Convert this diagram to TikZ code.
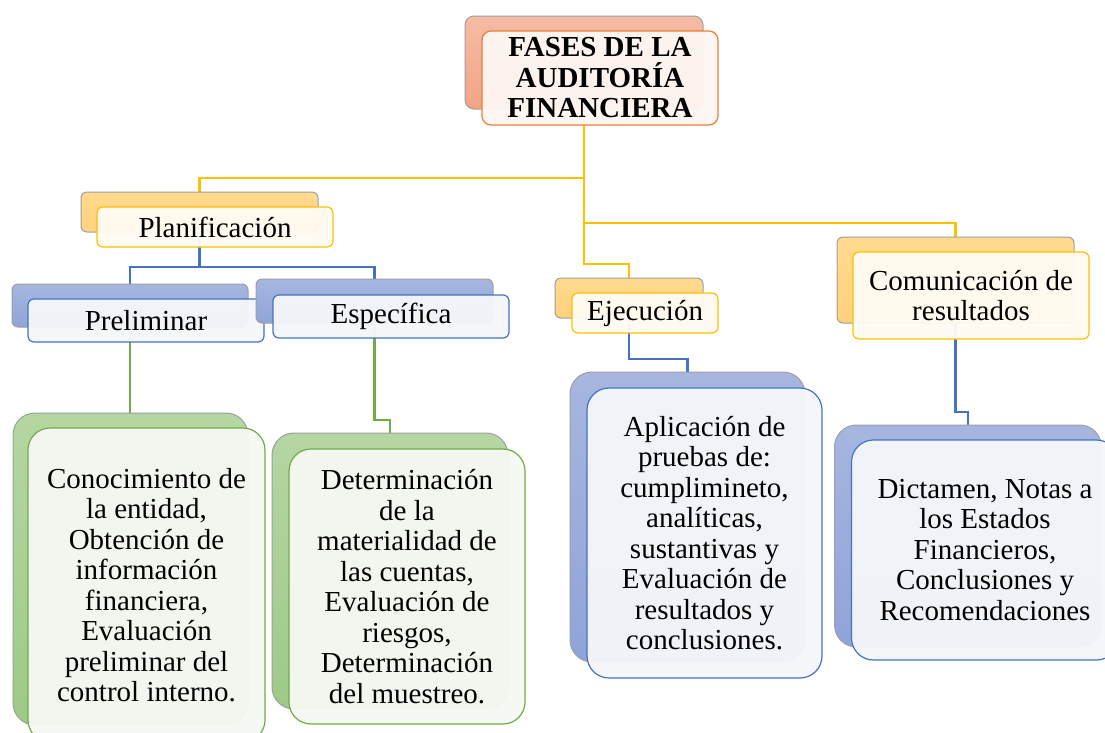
\documentclass[tikz,border=0pt]{standalone}
\usepackage{fontspec}
\setmainfont{Liberation Serif}
\usepackage{tikz}
\usetikzlibrary{backgrounds}
\definecolor{gold}{HTML}{FFC000}
\definecolor{wordblue}{HTML}{4472C4}
\definecolor{wordgreen}{HTML}{70AD47}
\definecolor{wordorange}{HTML}{ED7D31}
\tikzstyle{backbox} = [rectangle, draw=gray!75, line width=1pt, rounded corners=6pt]
\tikzstyle{frontbox} = [rectangle, line width=1.2pt, rounded corners=6pt, align=center,
    fill opacity=0.96, text opacity=1, font=\fontsize{29}{30.5}\selectfont]
\tikzstyle{salmonback} = [backbox, top color={rgb,255:red,246;green,188;blue,165},
    bottom color={rgb,255:red,241;green,164;blue,134}, rounded corners=9pt]
\tikzstyle{goldback} = [backbox, top color={rgb,255:red,255;green,218;blue,143},
    bottom color={rgb,255:red,255;green,209;blue,125}]
\tikzstyle{blueback} = [backbox, top color={rgb,255:red,166;green,182;blue,224},
    bottom color={rgb,255:red,143;green,164;blue,215}]
\tikzstyle{greenback} = [backbox, top color={rgb,255:red,181;green,214;blue,163},
    bottom color={rgb,255:red,157;green,202;blue,135}]
\tikzstyle{salmonfront} = [frontbox, draw=wordorange, fill={rgb,255:red,254;green,246;blue,242},
    rounded corners=9pt]
\tikzstyle{goldfront} = [frontbox, draw=gold, fill={rgb,255:red,255;green,251;blue,243}]
\tikzstyle{bluefront} = [frontbox, draw=wordblue, fill={rgb,255:red,244;green,246;blue,250}]
\tikzstyle{greenfront} = [frontbox, draw=wordgreen, fill={rgb,255:red,245;green,248;blue,243}]
\tikzstyle{goldline} = [draw, gold, line width=2.6pt]
\tikzstyle{blueline} = [draw, wordblue, line width=2.6pt]
\tikzstyle{greenline} = [draw, wordgreen, line width=2.6pt]

\begin{document}
\begin{tikzpicture}[x=1pt, y=-1pt]
    \useasboundingbox (0,0) rectangle (1105,732);
    % title
    \node [salmonback, minimum width=238pt, minimum height=93pt] at (584,62.5) (fasesb) {};
    \node [salmonfront, minimum width=236pt, minimum height=94pt] at (600,78) (fases)
        {\bfseries FASES DE LA\\\bfseries AUDITORÍA\\\bfseries FINANCIERA};
    % phases
    \node [goldback, minimum width=237pt, minimum height=40pt] at (199.5,212) (planb) {};
    \node [goldfront, minimum width=236pt, minimum height=40pt] at (215,227) (plan) {Planificación};
    \node [goldback, minimum width=148pt, minimum height=40pt] at (629,298) (ejecb) {};
    \node [goldfront, minimum width=146pt, minimum height=40pt] at (645,313) (ejec) {Ejecución};
    \node [goldback, minimum width=237pt, minimum height=86pt] at (955.5,280) (comb) {};
    \node [goldfront, minimum width=236pt, minimum height=87pt] at (971,295.5) (com)
        {Comunicación de\\resultados};
    % planning stages
    \node [blueback, minimum width=236pt, minimum height=43pt] at (130,305.5) (prelb) {};
    \node [bluefront, minimum width=236pt, minimum height=43pt] at (146,320.5) (prel) {Preliminar};
    \node [blueback, minimum width=237pt, minimum height=44pt] at (374.5,301) (espb) {};
    \node [bluefront, minimum width=236pt, minimum height=43pt] at (391,316.5) (esp) {Específica};
    % details
    \node [greenback, rounded corners=22pt, minimum width=235pt, minimum height=312pt] at (130.5,569) (conob) {};
    \node [greenfront, rounded corners=22pt, minimum width=237pt, minimum height=314pt] at (146.5,585) (cono)
        {Conocimiento de\\la entidad,\\Obtención de\\información\\financiera,\\Evaluación\\preliminar del\\control interno.};
    \node [greenback, rounded corners=22pt, minimum width=236pt, minimum height=276pt] at (390,571) (detb) {};
    \node [greenfront, rounded corners=22pt, minimum width=236pt, minimum height=275pt] at (407,586.5) (det)
        {Determinación\\de la\\materialidad de\\las cuentas,\\Evaluación de\\riesgos,\\Determinación\\del muestreo.};
    \node [blueback, rounded corners=22pt, minimum width=235pt, minimum height=290pt] at (687.5,517) (aplib) {};
    \node [bluefront, rounded corners=22pt, minimum width=235pt, minimum height=290pt] at (704.5,533) (apli)
        {Aplicación de\\pruebas de:\\cumplimineto,\\analíticas,\\sustantivas y\\Evaluación de\\resultados y\\conclusiones.};
    \node [blueback, rounded corners=22pt, minimum width=267pt, minimum height=222pt] at (968,536) (dictb) {};
    \node [bluefront, rounded corners=22pt, minimum width=267pt, minimum height=220pt] at (985,550) (dict)
        {Dictamen, Notas a\\los Estados\\Financieros,\\Conclusiones y\\Recomendaciones};
    % connectors
    \coordinate (bus1) at (0,178);
    \coordinate (bus2) at (0,223);
    \coordinate (bus3) at (0,264);
    \coordinate (bus4) at (0,267);
    \coordinate (bus5) at (0,420);
    \coordinate (bus6) at (0,359);
    \coordinate (bus7) at (0,412);
    \begin{scope}[on background layer]
        \path [goldline] (fasesb.center) -- (fasesb.center |- bus1) -| (planb.center);
        \path [goldline] (fasesb.center) -- (fasesb.center |- bus2) -| (comb.center);
        \path [goldline] (fasesb.center) -- (fasesb.center |- bus3) -| (ejecb.center);
        \path [blueline] (planb.center) -- (planb.center |- bus4) -| (prelb.center);
        \path [blueline] (planb.center) -- (planb.center |- bus4) -| (espb.center);
        \path [greenline] (prelb.center) -- (prelb.center |- conob.north);
        \path [greenline] (espb.center) -- (espb.center |- bus5) -| (detb.center);
        \path [blueline] (ejecb.center) -- (ejecb.center |- bus6) -| (aplib.center);
        \path [blueline] (comb.center) -- (comb.center |- bus7) -| (dictb.center);
    \end{scope}
\end{tikzpicture}
\end{document}
